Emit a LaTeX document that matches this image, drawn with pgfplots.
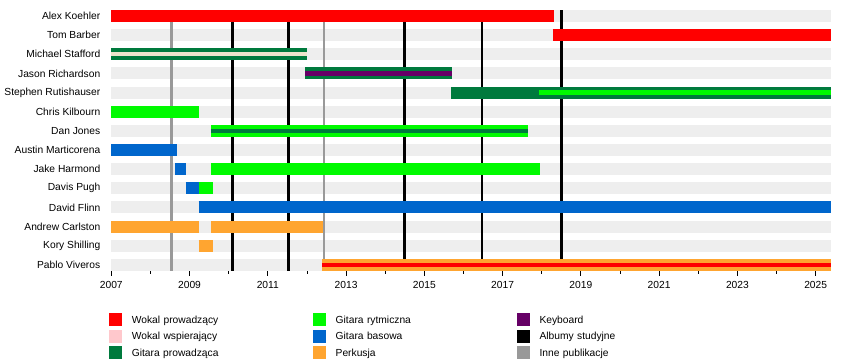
\documentclass[border=0pt]{standalone}
\usepackage{pgfplots}
\pgfplotsset{compat=1.18}
\usepackage{fontspec}
\setmainfont{Liberation Sans}
\definecolor{voc}{RGB}{255,0,0}
\definecolor{bvoc}{RGB}{255,200,204}
\definecolor{bvocs}{RGB}{238,228,204}
\definecolor{lead}{RGB}{0,122,61}
\definecolor{rhy}{RGB}{0,250,0}
\definecolor{bass}{RGB}{0,102,204}
\definecolor{drum}{RGB}{255,165,48}
\definecolor{keys}{RGB}{102,0,102}
\definecolor{oth}{RGB}{153,153,153}
\definecolor{bg}{RGB}{238,238,238}
\newcommand{\ff}{\fontsize{7.7}{9}\selectfont}
\begin{document}
\begin{tikzpicture}
\path (-83pt,-66.75pt) rectangle (554.5pt,203.25pt);
\begin{axis}[
  at={(0,0)}, anchor=south west,
  scale only axis, width=540.2pt, height=195.8pt,
  xmin=2007, xmax=2025.39, ymin=-0.313, ymax=13.32,
  clip=false,
  axis x line=bottom, axis y line=left,
  y axis line style={draw=none},
  x axis line style={-, line width=0.8pt},
  xtick={2007,2009,...,2025},
  minor xtick={2008,2010,...,2024},
  tick align=outside,
  major tick length=3.75pt, minor tick length=2.25pt,
  xtick style={black, line width=0.6pt},
  minor tick style={black, line width=0.6pt},
  ytick={0,...,13},
  yticklabels={Pablo Viveros,Kory Shilling,Andrew Carlston,David Flinn,Davis Pugh,Jake Harmond,Austin Marticorena,Dan Jones,Chris Kilbourn,Stephen Rutishauser,Jason Richardson,Michael Stafford,Tom Barber,Alex Koehler},
  ytick style={draw=none},
  ticklabel style={font=\ff},
  /pgf/number format/assume math mode=true,
  /pgf/number format/1000 sep={},
  xticklabel style={yshift=-1pt},
  yticklabel style={xshift=-1pt},
  legend image code/.code={\fill[#1] (0pt,-4.5pt) rectangle (10pt,5.5pt);},
  legend columns=3,
  legend style={at={(axis description cs:0,0)}, anchor=north west, xshift=-2pt, yshift=-31.5pt,
    draw=none, inner sep=0pt, row sep=2.4pt, font=\ff,
    nodes={anchor=west, inner sep=0pt, text width=135.75pt, align=left},
    /tikz/every odd column/.append style={column sep=7.25pt},
    /tikz/every even column/.append style={column sep=0pt}},
]
% background stripes
\foreach \r in {0,...,13}{
  \edef\tmp{\noexpand\addplot[draw=bg, line width=9pt, forget plot] coordinates {(2007,\r) (2025.39,\r)};}
  \tmp
}
% release lines
\addplot[draw=oth, line width=2pt, forget plot] coordinates {(2008.54,-0.313) (2008.54,13.32)};
\addplot[draw=black, line width=2pt, forget plot] coordinates {(2010.10,-0.313) (2010.10,13.32)};
\addplot[draw=black, line width=2pt, forget plot] coordinates {(2011.53,-0.313) (2011.53,13.32)};
\addplot[draw=oth, line width=2pt, forget plot] coordinates {(2012.44,-0.313) (2012.44,13.32)};
\addplot[draw=black, line width=2pt, forget plot] coordinates {(2014.49,-0.313) (2014.49,13.32)};
\addplot[draw=black, line width=2pt, forget plot] coordinates {(2016.47,-0.313) (2016.47,13.32)};
\addplot[draw=black, line width=2pt, forget plot] coordinates {(2018.50,-0.313) (2018.50,13.32)};
% Alex Koehler
\addplot[draw=voc, line width=9pt, forget plot] coordinates {(2007,13) (2018.32,13)};
% Tom Barber
\addplot[draw=voc, line width=9pt, forget plot] coordinates {(2018.30,12) (2025.39,12)};
% Michael Stafford
\addplot[draw=lead, line width=9pt, forget plot] coordinates {(2007,11) (2012.0,11)};
\addplot[draw=bvocs, line width=3.2pt, forget plot] coordinates {(2007,11) (2012.0,11)};
% Jason Richardson
\addplot[draw=lead, line width=9pt, forget plot] coordinates {(2011.96,10) (2015.71,10)};
\addplot[draw=keys, line width=3.2pt, forget plot] coordinates {(2011.96,10) (2015.71,10)};
% Stephen Rutishauser
\addplot[draw=lead, line width=9pt, forget plot] coordinates {(2015.69,9) (2025.39,9)};
\addplot[draw=rhy, line width=3.2pt, forget plot] coordinates {(2017.93,9) (2025.39,9)};
% Chris Kilbourn
\addplot[draw=rhy, line width=9pt, forget plot] coordinates {(2007,8) (2009.25,8)};
% Dan Jones
\addplot[draw=rhy, line width=9pt, forget plot] coordinates {(2009.56,7) (2017.65,7)};
\addplot[draw=lead, line width=3.2pt, forget plot] coordinates {(2009.56,7) (2017.65,7)};
% Austin Marticorena
\addplot[draw=bass, line width=9pt, forget plot] coordinates {(2007,6) (2008.67,6)};
% Jake Harmond
\addplot[draw=bass, line width=9pt, forget plot] coordinates {(2008.64,5) (2008.92,5)};
\addplot[draw=rhy, line width=9pt, forget plot] coordinates {(2009.56,5) (2017.96,5)};
% Davis Pugh
\addplot[draw=bass, line width=9pt, forget plot] coordinates {(2008.90,4) (2009.23,4)};
\addplot[draw=rhy, line width=9pt, forget plot] coordinates {(2009.23,4) (2009.59,4)};
% David Flinn
\addplot[draw=bass, line width=9pt, forget plot] coordinates {(2009.23,3) (2025.39,3)};
% Andrew Carlston
\addplot[draw=drum, line width=9pt, forget plot] coordinates {(2007,2) (2009.25,2)};
\addplot[draw=drum, line width=9pt, forget plot] coordinates {(2009.56,2) (2012.42,2)};
% Kory Shilling
\addplot[draw=drum, line width=9pt, forget plot] coordinates {(2009.23,1) (2009.59,1)};
% Pablo Viveros
\addplot[draw=drum, line width=9pt, forget plot] coordinates {(2012.39,0) (2025.39,0)};
\addplot[draw=voc, line width=3.2pt, forget plot] coordinates {(2012.39,0) (2025.39,0)};
% legend (row-wise)
\addlegendimage{fill=voc, draw=none}\addlegendentry{Wokal prowadzący}
\addlegendimage{fill=rhy, draw=none}\addlegendentry{Gitara rytmiczna}
\addlegendimage{fill=keys, draw=none}\addlegendentry{Keyboard}
\addlegendimage{fill=bvoc, draw=none}\addlegendentry{Wokal wspierający}
\addlegendimage{fill=bass, draw=none}\addlegendentry{Gitara basowa}
\addlegendimage{fill=black, draw=none}\addlegendentry{Albumy studyjne}
\addlegendimage{fill=lead, draw=none}\addlegendentry{Gitara prowadząca}
\addlegendimage{fill=drum, draw=none}\addlegendentry{Perkusja}
\addlegendimage{fill=oth, draw=none}\addlegendentry{Inne publikacje}
\end{axis}
\end{tikzpicture}
\end{document}
